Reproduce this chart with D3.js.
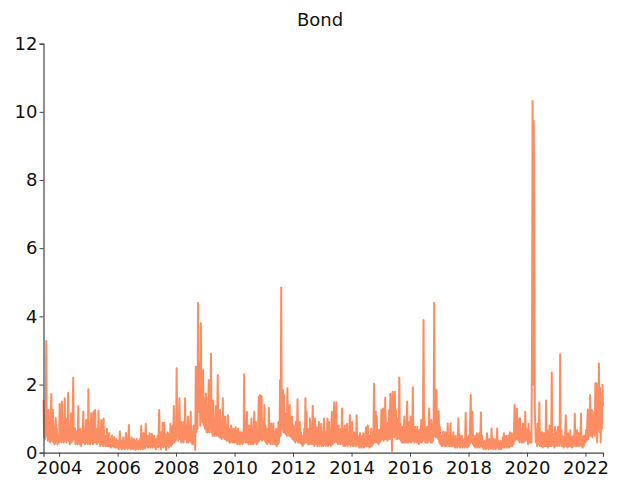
<!DOCTYPE html>
<html>
<head>
<meta charset="utf-8">
<script src="https://cdn.jsdelivr.net/npm/d3@7"></script>
<style>
  html, body { margin: 0; padding: 0; background: #fff; }
  svg { display: block; font-family: "DejaVu Sans", Verdana, sans-serif; }
</style>
</head>
<body>
<svg id="chart" width="629" height="485"></svg>
<script>
// Weekly bond-market volatility readings, one array per calendar year.
const firstDay = "2003-06-20";
const lastDay = "2022-08-08";
const firstYear = 2003;

const vol2003 = [1.55,0.45,0.9,0.4,1.1,3.28,0.5,1.2,0.35,1.25,0.4,0.8,0.3,0.9,1.72,0.35,0.7,1.25,0.3,0.75,0.25,0.6,1.02,0.3,0.7,0.25,0.5,0.3];
const vol2004 = [0.3,1.43,0.35,0.7,0.3,1.5,0.4,0.9,0.3,0.8,1.6,0.35,0.9,0.3,1.0,0.4,1.76,0.35,0.8,0.25,0.7,1.16,0.3,0.6,0.35,2.2,0.4,0.6,0.72,0.25,0.55,0.3,0.65,0.25,1.37,0.3,0.6,0.25,0.7,0.2,0.5,0.3,0.7,1.2,0.3,0.55,0.25,0.6,0.96,0.3,0.5,0.25];
const vol2005 = [1.86,0.3,0.6,0.25,0.7,1.16,0.3,0.6,0.25,1.2,0.3,0.7,1.25,0.3,0.6,0.25,0.7,0.3,1.23,0.3,0.55,0.2,0.6,0.96,0.25,0.5,0.2,1.0,0.25,0.5,0.2,0.45,0.2,0.7,0.2,0.4,0.2,0.58,0.2,0.4,0.15,0.35,0.5,0.2,0.35,0.15,0.45,0.2,0.35,0.15,0.4,0.2];
const vol2006 = [0.15,0.35,0.1,0.3,0.62,0.15,0.3,0.1,0.35,0.12,0.45,0.15,0.3,0.1,0.35,0.58,0.15,0.3,0.1,0.35,0.81,0.15,0.3,0.1,0.35,0.45,0.12,0.3,0.1,0.4,0.15,0.35,0.08,0.3,0.4,0.12,0.3,0.1,0.35,0.15,0.4,0.1,0.78,0.15,0.35,0.1,0.58,0.15,0.35,0.12,0.84,0.2];
const vol2007 = [0.2,0.5,0.15,0.4,0.2,0.57,0.15,0.45,0.2,0.55,0.15,0.4,0.2,0.5,0.15,0.35,0.1,0.4,0.2,0.5,0.15,0.6,1.25,0.2,0.5,0.1,0.6,0.2,0.88,0.15,0.6,0.88,0.2,0.55,0.08,0.5,0.2,0.6,0.55,0.15,0.5,0.25,0.85,0.2,0.6,0.25,0.8,0.3,1.37,0.3,0.7,0.35];
const vol2008 = [0.4,2.48,0.5,1.0,0.35,0.9,1.6,0.4,0.8,0.3,0.9,0.35,0.7,0.3,0.9,0.4,1.6,0.4,0.8,0.3,0.6,1.06,0.3,0.7,0.35,0.8,1.2,0.3,0.6,0.25,0.5,0.8,0.25,0.6,0.08,2.52,0.6,1.8,0.7,4.4,1.2,2.2,2.67,0.8,3.8,1.0,2.2,0.9,2.42,0.8,1.6,0.7];
const vol2009 = [0.7,1.74,0.6,1.2,0.6,1.4,2.13,0.6,1.3,0.7,2.9,0.6,1.2,0.5,1.53,0.5,1.0,0.5,0.9,1.37,0.5,0.9,2.28,0.5,1.0,0.45,1.25,0.45,0.8,0.4,0.9,1.6,0.45,0.8,0.4,1.06,0.4,0.7,0.35,0.8,1.1,0.35,0.6,0.3,0.7,0.3,0.8,0.35,0.6,0.3,0.7,0.3];
const vol2010 = [0.3,0.6,0.75,0.3,0.55,0.25,0.7,0.3,0.5,0.25,0.6,0.3,0.55,0.6,0.25,0.5,0.3,2.3,0.4,0.8,0.3,0.7,1.2,0.3,0.6,0.25,0.8,0.3,0.55,0.25,1.0,0.3,0.6,0.25,0.7,1.2,0.3,0.6,0.9,0.25,0.6,0.3,0.8,1.64,0.35,1.69,0.4,0.8,1.66,0.35,0.9,0.4];
const vol2011 = [0.4,1.4,0.35,0.8,0.3,0.7,0.25,0.6,0.3,1.32,0.3,0.6,0.25,0.86,0.3,0.6,0.25,0.86,0.3,0.5,0.25,0.6,0.7,0.2,0.5,0.25,0.9,0.3,0.6,2.13,0.5,4.85,0.7,1.3,1.84,0.6,1.7,0.6,1.16,0.55,1.0,0.5,1.89,0.6,1.2,0.5,1.4,0.5,0.9,0.45,1.06,0.4];
const vol2012 = [0.4,0.8,0.35,0.7,0.3,0.9,0.35,0.7,1.57,0.3,0.7,0.3,0.9,0.3,0.6,0.25,0.5,0.2,0.45,0.25,0.7,0.3,1.6,0.3,1.2,0.3,0.7,0.25,0.6,0.25,1.0,0.3,0.7,0.25,0.6,1.37,0.25,0.7,0.2,1.0,0.25,0.6,0.75,0.2,0.5,0.25,0.9,0.2,0.6,0.25,0.85,0.2];
const vol2013 = [0.25,0.6,0.2,1.0,0.25,0.6,0.2,0.5,0.25,1.0,0.2,0.55,0.9,0.25,0.6,0.2,0.7,1.2,0.25,0.7,0.3,1.47,0.3,0.8,0.35,1.47,0.3,0.7,0.25,0.8,0.3,0.6,0.25,0.7,0.3,1.3,0.25,0.6,0.2,0.5,0.8,0.2,0.5,0.25,0.85,0.2,0.5,0.25,0.6,1.1,0.2,0.5];
const vol2014 = [0.25,0.9,0.2,0.5,0.2,0.6,0.25,0.5,0.2,1.1,0.25,0.5,0.2,0.45,0.15,0.57,0.2,0.4,0.15,0.5,0.2,0.57,0.15,0.45,0.2,0.6,0.75,0.2,0.5,0.8,0.2,0.45,0.15,0.5,0.2,0.7,0.2,0.5,0.25,0.6,2.02,0.3,0.7,1.2,0.3,1.06,0.3,0.6,0.25,0.67,0.3,0.6];
const vol2015 = [0.35,1.25,0.4,0.8,1.3,0.35,0.9,0.4,1.62,0.4,0.9,0.86,0.35,0.8,0.4,1.25,0.4,1.72,0.5,1.0,0.05,1.79,0.5,1.2,0.45,1.79,0.5,1.25,0.4,0.9,0.4,1.0,0.45,2.21,0.4,0.86,0.35,0.7,0.3,0.76,0.3,0.7,1.06,0.3,0.7,0.3,0.8,1.5,0.3,0.7,0.3,0.9];
const vol2016 = [0.35,1.06,0.3,0.8,0.35,1.92,0.35,0.7,0.3,0.76,0.35,0.6,0.3,0.76,0.3,0.55,0.25,0.67,0.3,0.6,0.96,0.3,0.7,0.35,3.89,0.4,0.96,0.3,0.6,0.3,0.76,0.3,0.7,0.35,1.3,0.35,0.7,0.3,0.96,0.3,0.7,0.35,0.9,4.4,0.5,1.2,0.45,1.84,0.45,1.0,0.4,1.22];
const vol2017 = [0.3,0.76,0.25,0.5,0.2,0.45,0.2,0.62,0.25,0.45,0.2,0.6,0.2,0.4,0.25,0.86,0.2,0.5,0.2,0.4,0.86,0.2,0.5,0.2,0.4,0.6,0.2,0.4,0.15,0.5,0.2,0.4,0.15,0.45,1.0,0.2,0.55,0.15,0.4,0.2,0.5,0.15,0.4,0.2,0.35,0.15,0.45,1.17,0.2,0.4,0.15,0.45];
const vol2018 = [0.2,0.5,0.25,1.0,1.69,0.3,0.6,1.2,0.25,0.5,0.2,0.4,0.15,0.5,0.2,0.57,0.15,0.4,0.2,0.57,0.15,0.4,1.18,0.2,0.5,0.15,0.3,0.1,0.35,0.15,0.3,0.1,0.4,0.57,0.15,0.35,0.1,0.4,0.15,0.3,0.12,0.71,0.15,0.35,0.1,0.4,0.15,0.3,0.1,0.4,0.15,0.71];
const vol2019 = [0.15,0.35,0.1,0.3,0.15,0.35,0.1,0.3,0.15,0.45,0.15,0.57,0.15,0.35,0.2,0.5,0.15,0.35,0.2,0.5,0.15,0.4,0.6,0.2,0.4,0.57,0.2,0.5,0.25,0.7,1.4,0.35,0.9,0.4,1.3,0.4,0.8,0.35,1.0,0.3,1.0,0.35,0.7,0.3,0.7,0.85,0.3,0.6,0.35,1.2,0.35,0.7];
const vol2020 = [0.4,0.6,0.25,0.85,0.3,0.6,0.3,0.5,0.3,3.36,10.32,2.0,9.74,6.9,1.2,0.7,0.3,0.66,0.2,0.85,0.25,0.5,1.47,0.2,0.6,0.2,0.5,0.6,0.15,0.4,0.57,0.2,0.5,0.2,1.53,0.2,0.65,0.15,0.5,0.2,0.8,0.2,0.5,0.2,2.35,0.25,0.57,0.2,0.5,0.15,0.76,0.2];
const vol2021 = [0.25,0.6,0.2,0.76,0.25,0.5,0.2,2.89,0.3,0.66,0.2,0.5,0.37,0.15,0.45,0.2,0.6,1.1,0.2,0.5,0.15,0.57,0.2,0.45,0.2,0.66,0.2,0.4,0.15,0.47,0.2,0.5,0.25,1.14,0.2,0.5,0.2,0.66,0.2,0.4,0.57,0.2,0.5,0.25,1.14,0.2,0.4,0.15,0.47,0.2,0.5,0.3];
const vol2022 = [0.3,0.66,0.35,0.8,1.27,0.4,0.9,0.5,1.69,0.5,1.0,1.25,0.45,1.0,0.6,1.2,0.5,2.04,0.6,2.04,0.3,1.3,0.7,2.62,0.6,1.9,0.3,1.5,0.7,1.99,1.37];

const yearlyVol = [vol2003, vol2004, vol2005, vol2006, vol2007, vol2008, vol2009,
  vol2010, vol2011, vol2012, vol2013, vol2014, vol2015, vol2016, vol2017,
  vol2018, vol2019, vol2020, vol2021, vol2022];

const yTicks = [0, 2, 4, 6, 8, 10, 12];
const chartTitle = "Bond";

// Spread each year's weekly readings across that year's span of the series.
const parseDay = d3.utcParse("%Y-%m-%d");
const start = parseDay(firstDay), end = parseDay(lastDay);
const series = [];
yearlyVol.forEach((vals, i) => {
  const yr = firstYear + i;
  const t0 = Math.max(+start, Date.UTC(yr, 0, 1));
  const t1 = Math.min(+end, Date.UTC(yr + 1, 0, 1));
  const isLast = i === yearlyVol.length - 1;
  const step = (t1 - t0) / (isLast ? vals.length - 1 : vals.length);
  vals.forEach((v, j) => series.push({ date: new Date(t0 + step * j), value: v }));
});

const svg = d3.select("#chart");
const margin = { left: 43.5, right: 26, top: 43.7, bottom: 32.3 };
const W = 629, H = 485;

const x = d3.scaleUtc()
  .domain(d3.extent(series, d => d.date))
  .range([margin.left, W - margin.right]);
const y = d3.scaleLinear()
  .domain([0, 12])
  .range([H - margin.bottom, margin.top]);

svg.append("path")
  .datum(series)
  .attr("fill", "none")
  .attr("stroke", "#fc8d62")
  .attr("stroke-width", 2)
  .attr("stroke-linejoin", "round")
  .attr("d", d3.line().x(d => x(d.date)).y(d => y(d.value)));

const xAxis = svg.append("g")
  .attr("transform", `translate(0,${H - margin.bottom})`)
  .call(d3.axisBottom(x).ticks(d3.utcYear.every(2)).tickFormat(d3.utcFormat("%Y"))
    .tickSizeOuter(0).tickSize(4).tickPadding(5));
const yAxis = svg.append("g")
  .attr("transform", `translate(${margin.left},0)`)
  .call(d3.axisLeft(y).tickValues(yTicks).tickSizeOuter(0).tickSize(4).tickPadding(2));

[xAxis, yAxis].forEach(g => {
  g.select(".domain").attr("stroke", "#444").attr("stroke-width", 1.2);
  g.selectAll(".tick line").attr("stroke", "#444");
  g.selectAll(".tick text").attr("fill", "#111").style("font-size", "18px")
    .style("font-family", '"DejaVu Sans", Verdana, sans-serif');
});

svg.append("text")
  .attr("x", 320)
  .attr("y", 26)
  .attr("text-anchor", "middle")
  .attr("fill", "#111")
  .style("font-size", "18px")
  .text(chartTitle);
</script>
</body>
</html>
